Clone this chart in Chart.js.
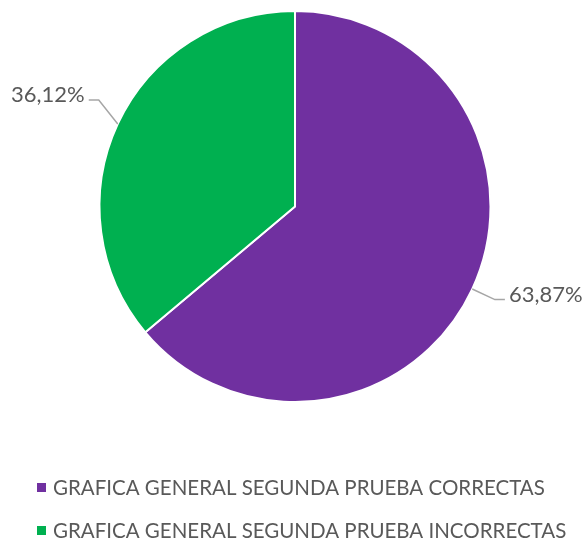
<!DOCTYPE html>
<html lang="es">
<head>
    <meta charset="UTF-8">
    <title>Grafica general segunda prueba</title>
    <script src="https://cdn.jsdelivr.net/npm/chart.js"></script>
    <style>
        html, body { margin: 0; padding: 0; background: #fff; }
        #wrap { width: 586px; height: 542px; }
    </style>
</head>
<body>
    <div id="wrap"><canvas id="pieChart" width="586" height="542"></canvas></div>

    <script>
        // datos
        const categories = ['GRAFICA GENERAL SEGUNDA PRUEBA CORRECTAS', 'GRAFICA GENERAL SEGUNDA PRUEBA INCORRECTAS'];
        const percentages = [63.87, 36.12];
        const sliceColors = ['#7030A0', '#00B050'];

        const textColor = '#595959';
        const fontFamily = 'Lato, "Open Sans", sans-serif';

        // etiquetas de porcentaje con linea guia
        const leaderLabels = {
            id: 'leaderLabels',
            afterDatasetsDraw(chart, args, opts) {
                const ctx = chart.ctx;
                const meta = chart.getDatasetMeta(0);
                const values = chart.data.datasets[0].data;
                ctx.save();
                ctx.font = opts.size + 'px ' + fontFamily;
                meta.data.forEach((arc, i) => {
                    const p = arc.getProps(['x', 'y', 'startAngle', 'endAngle', 'outerRadius'], true);
                    const mid = (p.startAngle + p.endAngle) / 2;
                    const cx = Math.cos(mid), cy = Math.sin(mid);
                    const ex = p.x + cx * p.outerRadius, ey = p.y + cy * p.outerRadius;
                    const nudge = opts.nudge[i] || 0;
                    const ext = opts.ext[i];
                    const bx = p.x + cx * (p.outerRadius + ext), by = p.y + cy * (p.outerRadius + ext) + nudge;
                    const dir = cx >= 0 ? 1 : -1;
                    const hx = bx + dir * opts.hook;

                    ctx.strokeStyle = '#A6A6A6';
                    ctx.lineWidth = 1.5;
                    ctx.beginPath();
                    ctx.moveTo(ex, ey);
                    ctx.lineTo(bx, by);
                    ctx.lineTo(hx, by);
                    ctx.stroke();

                    const txt = values[i].toFixed(2).replace('.', ',') + '%';
                    ctx.fillStyle = textColor;
                    ctx.textBaseline = 'middle';
                    ctx.textAlign = dir > 0 ? 'left' : 'right';
                    ctx.fillText(txt, hx + dir * 4, by - 5);
                });
                ctx.restore();
            }
        };

        // leyenda vertical abajo
        const stackedLegend = {
            id: 'stackedLegend',
            afterDraw(chart, args, opts) {
                const ctx = chart.ctx;
                const ds = chart.data.datasets[0];
                ctx.save();
                ctx.font = opts.size + 'px ' + fontFamily;
                ctx.textBaseline = 'middle';
                ctx.textAlign = 'left';
                chart.data.labels.forEach((label, i) => {
                    const y = opts.top + i * opts.rowGap;
                    ctx.fillStyle = ds.backgroundColor[i];
                    ctx.fillRect(opts.left, y - 4, 9, 9);
                    ctx.fillStyle = textColor;
                    ctx.fillText(label, opts.left + 16, y + 1);
                });
                ctx.restore();
            }
        };

        const ctx = document.getElementById('pieChart').getContext('2d');
        const pieChart = new Chart(ctx, {
            type: 'pie',
            data: {
                labels: categories,
                datasets: [{
                    data: percentages,
                    backgroundColor: sliceColors,
                    borderColor: '#ffffff',
                    borderWidth: 2
                }]
            },
            options: {
                responsive: false,
                animation: false,
                layout: {
                    padding: { top: 10, bottom: 139, left: 4, right: 0 }
                },
                plugins: {
                    legend: { display: false },
                    tooltip: { enabled: false },
                    leaderLabels: { size: 22, ext: [25, 21], hook: 10, nudge: [0, -15] },
                    stackedLegend: { size: 20.5, left: 37, top: 487, rowGap: 43 }
                }
            },
            plugins: [leaderLabels, stackedLegend]
        });
    </script>
</body>
</html>
